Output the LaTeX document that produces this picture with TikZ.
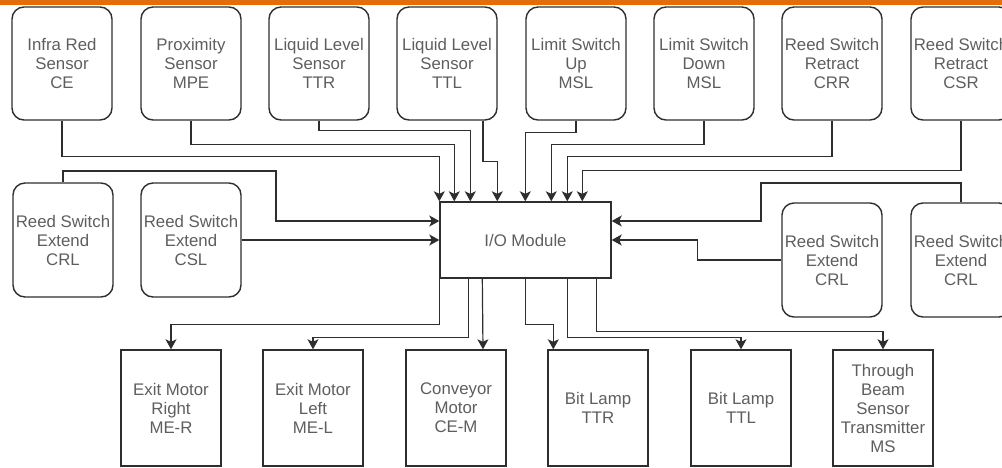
\documentclass[tikz,border=0pt]{standalone}
\usepackage{fontspec}
\setmainfont{Liberation Sans}
\usetikzlibrary{arrows.meta,calc}
\definecolor{barorange}{HTML}{E46C0A}
\definecolor{txt}{HTML}{5E5E5E}
\definecolor{ln}{HTML}{2E2E2E}
\begin{document}
\begin{tikzpicture}[x=1pt,y=-1pt,
  box/.style={draw=ln, line width=1.4pt, text=txt, align=center, inner sep=0pt,
    font=\fontsize{16.8}{19}\selectfont},
  rbox/.style={box, rounded corners=12pt, minimum width=100pt, minimum height=113pt},
  sbox/.style={box, minimum width=100pt, minimum height=116pt},
  iobox/.style={box, minimum width=171pt, minimum height=76pt},
  conn/.style={draw=ln, line width=1.2pt, -{Stealth[length=10pt,width=11pt,inset=2.5pt]}},
  plain/.style={draw=ln, line width=1.2pt}
]
\useasboundingbox (0,0) rectangle (1002,467);
\fill[barorange] (0,0) rectangle (1002,5);

% top row
\node[rbox] (t1) at (62,63.5) {Infra Red\\Sensor\\CE};
\node[rbox] (t2) at (191,63.5) {Proximity\\Sensor\\MPE};
\node[rbox] (t3) at (319,63.5) {Liquid Level\\Sensor\\TTR};
\node[rbox] (t4) at (447,63.5) {Liquid Level\\Sensor\\TTL};
\node[rbox] (t5) at (576,63.5) {Limit Switch\\Up\\MSL};
\node[rbox] (t6) at (704,63.5) {Limit Switch\\Down\\MSL};
\node[rbox] (t7) at (832,63.5) {Reed Switch\\Retract\\CRR};
\node[rbox] (t8) at (961,63.5) {Reed Switch\\Retract\\CSR};

% middle row
\node[rbox, minimum height=114pt] (m1) at (63,240) {Reed Switch\\Extend\\CRL};
\node[rbox, minimum height=114pt] (m2) at (191,240) {Reed Switch\\Extend\\CSL};
\node[rbox, minimum height=114pt] (m3) at (832,260) {Reed Switch\\Extend\\CRL};
\node[rbox, minimum height=114pt] (m4) at (961,260) {Reed Switch\\Extend\\CRL};

\node[iobox] (io) at (525.5,240) {I/O Module};

% bottom row
\node[sbox] (b1) at (171,408) {Exit Motor\\Right\\ME-R};
\node[sbox] (b2) at (313,408) {Exit Motor\\Left\\ME-L};
\node[sbox] (b3) at (456,408) {Conveyor\\Motor\\CE-M};
\node[sbox] (b4) at (598,408) {Bit Lamp\\TTR};
\node[sbox] (b5) at (741,408) {Bit Lamp\\TTL};
\node[sbox] (b6) at (883,408) {Through\\Beam\\Sensor\\Transmitter\\MS};

% top inputs
\draw[conn] (t1.south) |- ($(io.north west)+(0,-45)$) -- (io.north west);
\draw[conn] (t2.south) |- ($(io.north west)+(15,-57)$) -- ($(io.north west)+(15,0)$);
\draw[conn] (t3.south) |- ($(io.north west)+(31,-71)$) -- ($(io.north west)+(31,0)$);
\draw[conn] ($(t4.south)+(36,0)$) |- ($(io.north west)+(58,-40)$) -- ($(io.north west)+(58,0)$);
\draw[conn] (t5.south) |- ($(io.north west)+(86,-69)$) -- ($(io.north west)+(86,0)$);
\draw[conn] (t6.south) |- ($(io.north west)+(112,-57)$) -- ($(io.north west)+(112,0)$);
\draw[conn] (t7.south) |- ($(io.north west)+(128,-45)$) -- ($(io.north west)+(128,0)$);
\draw[conn] (t8.south) |- ($(io.north west)+(143,-31)$) -- ($(io.north west)+(143,0)$);

% side inputs
\coordinate (lbend) at (276,171);
\draw[conn] (m1.north) |- (lbend) |- ($(io.west)+(0,-19)$);
\draw[conn] (m2.east) -- (io.west);
\coordinate (rbend) at (761,183);
\draw[conn] (m4.north) |- (rbend) |- ($(io.east)+(0,-19)$);
\draw[conn] (m3.west) -| ($(io.east)+(86,0)$) -- (io.east);

% outputs
\draw[conn] (io.south west) |- ($(b1.north)+(0,-25)$) -- (b1.north);
\draw[conn] ($(io.south west)+(29,0)$) |- ($(b2.north)+(0,-12)$) -- (b2.north);
\draw[conn] ($(io.south west)+(43,0)$) -- ($(b3.north)+(27,0)$);
\draw[conn] ($(io.south west)+(86,0)$) |- ($(b4.north west)+(6,-25)$) -- ($(b4.north west)+(6,0)$);
\draw[conn] ($(io.south west)+(128,0)$) |- ($(b5.north)+(0,-12)$) -- (b5.north);
\draw[conn] ($(io.south west)+(157,0)$) |- ($(b6.north)+(0,-18)$) -- (b6.north);
\end{tikzpicture}
\end{document}
